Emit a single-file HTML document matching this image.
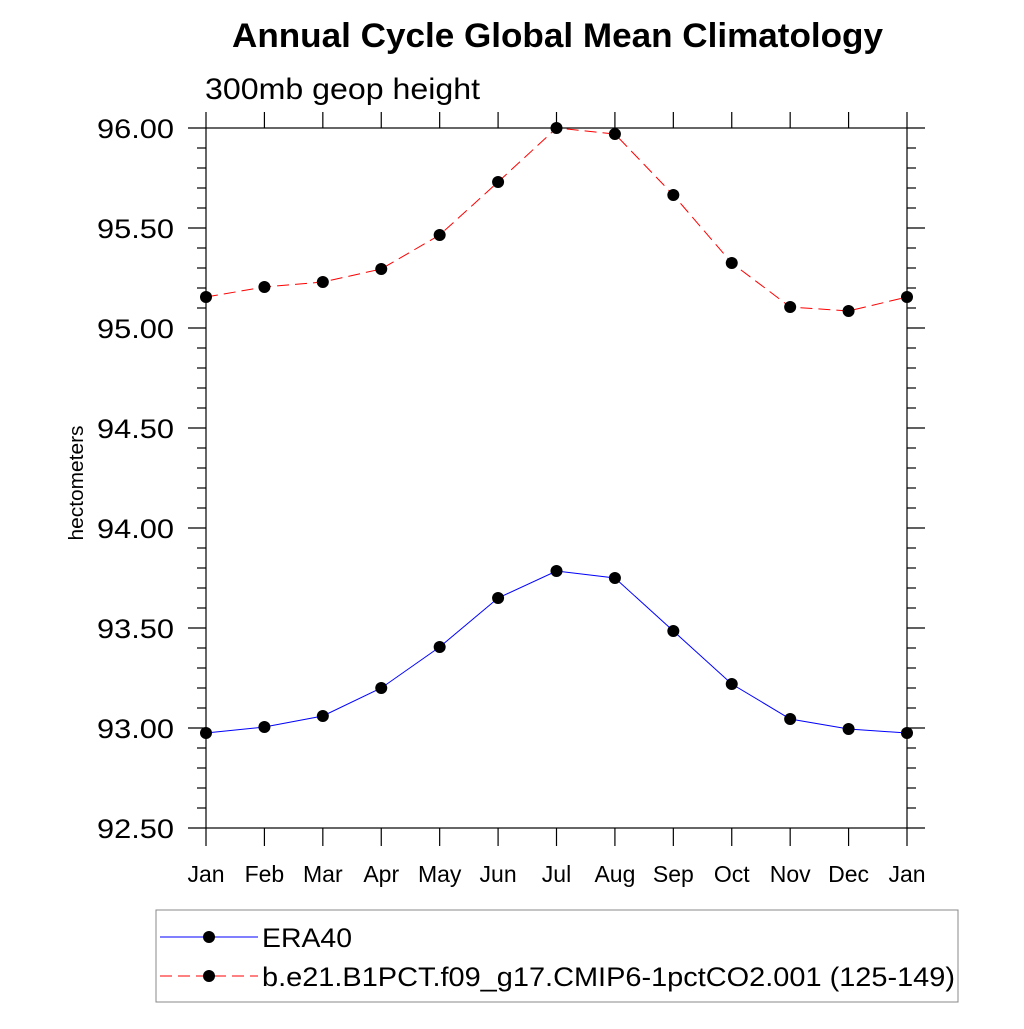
<!DOCTYPE html>
<html><head><meta charset="utf-8"><style>
body{margin:0;background:#fff}
svg text{font-family:"Liberation Sans",sans-serif;fill:#000}
</style></head><body>
<svg width="1024" height="1024" viewBox="0 0 1024 1024">
<text x="232" y="47" font-size="34" font-weight="bold" textLength="651" lengthAdjust="spacingAndGlyphs">Annual Cycle Global Mean Climatology</text>
<text x="205" y="99" font-size="30" textLength="275" lengthAdjust="spacingAndGlyphs">300mb geop height</text>
<text transform="translate(83,483) rotate(-90)" font-size="20" text-anchor="middle" textLength="115" lengthAdjust="spacingAndGlyphs">hectometers</text>
<g id="axes" stroke="#000" stroke-width="1.2" fill="none"></g>
<g id="ticklabels"></g>
<g id="series"></g>
<g>
<rect x="156" y="910" width="802" height="92" fill="none" stroke="#888" stroke-width="1"/>
<line x1="160" y1="937" x2="258" y2="937" stroke="#0000ff" stroke-width="1"/>
<circle cx="209" cy="937" r="6" fill="#000"/>
<text x="262" y="947" font-size="27" textLength="90" lengthAdjust="spacingAndGlyphs">ERA40</text>
<line x1="160" y1="976" x2="258" y2="976" stroke="#ff0000" stroke-width="1" stroke-dasharray="12,6"/>
<circle cx="209" cy="976" r="6" fill="#000"/>
<text x="262" y="986" font-size="27" textLength="693" lengthAdjust="spacingAndGlyphs">b.e21.B1PCT.f09_g17.CMIP6-1pctCO2.001 (125-149)</text>
</g>
</svg>
<script>
const months=["Jan","Feb","Mar","Apr","May","Jun","Jul","Aug","Sep","Oct","Nov","Dec","Jan"];
const era40=[92.975,93.005,93.06,93.2,93.405,93.65,93.785,93.75,93.485,93.22,93.045,92.995,92.975];
const model=[95.155,95.205,95.23,95.295,95.465,95.73,96.0,95.97,95.665,95.325,95.105,95.085,95.155];
const yTicks=["92.50","93.00","93.50","94.00","94.50","95.00","95.50","96.00"];
const L=206,R=907,T=128,B=828,yMin=92.5,yMax=96.0;
const xs=i=>L+(R-L)*i/12;
const ys=v=>B-(v-yMin)/(yMax-yMin)*(B-T);
const NS="http://www.w3.org/2000/svg";
function mk(tag,attrs,parent){const e=document.createElementNS(NS,tag);for(const k in attrs)e.setAttribute(k,attrs[k]);parent.appendChild(e);return e;}
const ax=document.getElementById('axes'),tl=document.getElementById('ticklabels'),sr=document.getElementById('series');
const fr=mk('rect',{x:L,y:T,width:R-L,height:B-T},ax);


for(let i=0;i<months.length;i++){
  const x=xs(i);
  mk('line',{x1:x,y1:B,x2:x,y2:B+18},ax);
  mk('line',{x1:x,y1:T,x2:x,y2:T-16},ax);
  const t=mk('text',{x:x,y:B+54,'font-size':23,'text-anchor':'middle'},tl);
  t.textContent=months[i];
  
  
}
for(let v=yMin;v<=yMax+1e-6;v+=0.1){
  const y=ys(v);const major=Math.abs(v*2-Math.round(v*2))<1e-6;const len=major?18:9;
  mk('line',{x1:L-len,y1:y,x2:L,y2:y},ax);
  mk('line',{x1:R,y1:y,x2:R+len,y2:y},ax);
}
yTicks.forEach(s=>{
  const t=mk('text',{x:97,y:ys(parseFloat(s))+10,'font-size':27,textLength:77,lengthAdjust:'spacingAndGlyphs'},tl);
  t.textContent=s;
  
  
});
function series(data,color,dash,name){
  const pts=data.map((v,i)=>xs(i)+','+ys(v)).join(' ');
  const pl=mk('polyline',{points:pts,fill:'none',stroke:color,'stroke-width':1,'stroke-dasharray':dash},sr);
  
  
  data.forEach((v,i)=>{
    const c=mk('circle',{cx:xs(i),cy:ys(v),r:6,fill:'#000'},sr);
    
    
  });
}
series(era40,'#0000ff','none','era40');
series(model,'#ff0000','12,6','model');
</script>
</body></html>
